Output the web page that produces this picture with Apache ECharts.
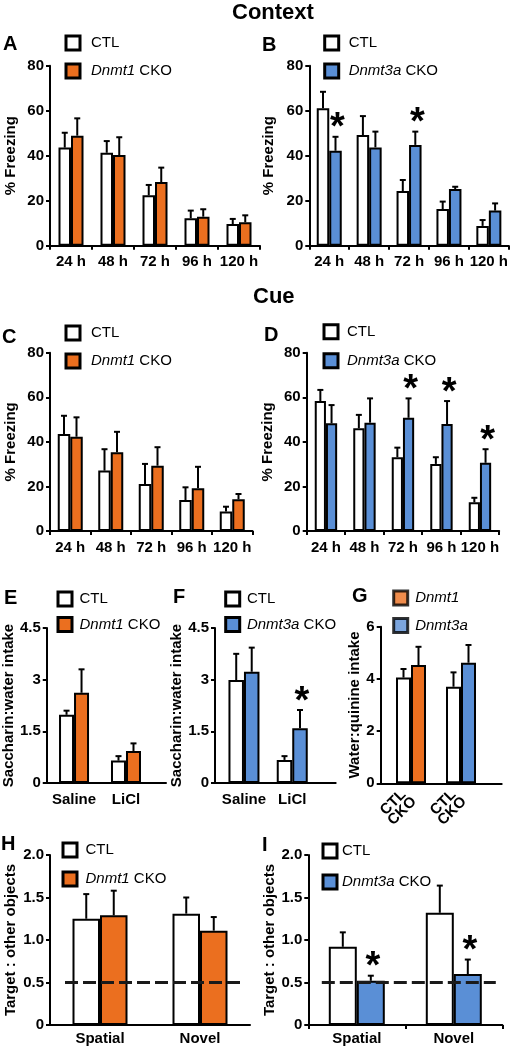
<!DOCTYPE html>
<html><head><meta charset="utf-8">
<script src="https://cdn.jsdelivr.net/npm/echarts@6/dist/echarts.min.js"></script>
<style>html,body{margin:0;padding:0;background:#fff}#c{width:513px;height:1050px}</style>
</head><body><div id="c"></div>
<script>
// ---------------- data ----------------
const hours = ['24 h', '48 h', '72 h', '96 h', '120 h'];
const tastes = ['Saline', 'LiCl'];
const genotypes = ['Dnmt1', 'Dnmt3a'];
const objects = ['Spatial', 'Novel'];

// A: context fear, Dnmt1
const ctxD1Ctl = [43.6, 41.3, 22.4, 12.2, 9.6];
const ctxD1CtlSem = [6.6, 5.2, 4.6, 3.4, 2.3];
const ctxD1Cko = [48.9, 40.3, 28.3, 12.9, 10.4];
const ctxD1CkoSem = [7.7, 7.9, 6.4, 3.3, 3.1];
// B: context fear, Dnmt3a
const ctxD3aCtl = [61.1, 49.2, 24.3, 16.3, 8.8];
const ctxD3aCtlSem = [7.3, 8.4, 4.9, 3.3, 2.6];
const ctxD3aCko = [42.2, 43.7, 44.8, 25.2, 15.6];
const ctxD3aCkoSem = [6.2, 7.0, 5.9, 1.0, 3.2];
const ctxD3aSig = [1, 0, 1, 0, 0];
// C: cue fear, Dnmt1
const cueD1Ctl = [43.5, 27.1, 21.1, 13.9, 8.7];
const cueD1CtlSem = [8.2, 9.6, 9.0, 5.7, 2.2];
const cueD1Cko = [42.3, 35.3, 29.3, 19.2, 14.2];
const cueD1CkoSem = [8.7, 9.2, 8.3, 9.6, 2.4];
// D: cue fear, Dnmt3a
const cueD3aCtl = [58.3, 46.1, 33.1, 30.1, 12.9];
const cueD3aCtlSem = [5.0, 6.0, 4.3, 3.0, 2.0];
const cueD3aCko = [48.3, 48.6, 50.8, 48.0, 30.6];
const cueD3aCkoSem = [8.2, 10.9, 8.7, 10.3, 6.1];
const cueD3aSig = [0, 0, 1, 1, 1];
// E: saccharin:water, Dnmt1
const ctaD1Ctl = [1.98, 0.65];
const ctaD1CtlSem = [0.12, 0.13];
const ctaD1Cko = [2.62, 0.93];
const ctaD1CkoSem = [0.68, 0.22];
// F: saccharin:water, Dnmt3a
const ctaD3aCtl = [2.99, 0.67];
const ctaD3aCtlSem = [0.76, 0.11];
const ctaD3aCko = [3.23, 1.59];
const ctaD3aCkoSem = [0.70, 0.53];
const ctaD3aSig = [0, 1];
// G: water:quinine
const quinCtl = [4.05, 3.70];
const quinCtlSem = [0.33, 0.55];
const quinCko = [4.53, 4.62];
const quinCkoSem = [0.70, 0.68];
const quinTickLabels = ['CTL', 'CKO'];
// H: object recognition, Dnmt1
const objD1Ctl = [1.25, 1.31];
const objD1CtlSem = [0.29, 0.19];
const objD1Cko = [1.29, 1.11];
const objD1CkoSem = [0.29, 0.16];
// I: object recognition, Dnmt3a
const objD3aCtl = [0.92, 1.32];
const objD3aCtlSem = [0.17, 0.32];
const objD3aCko = [0.52, 0.60];
const objD3aCkoSem = [0.06, 0.17];
const objD3aSig = [1, 1];
const chanceLevel = 0.5;

// ---------------- styles ----------------
const FONT = '"Liberation Sans", Arial, Helvetica, sans-serif';
const ORANGE = '#EB6F1F';
const BLUE = '#5A8FD6';
const STAR_FS = 38;

function colorFor(name) {
  if (name === 'CTL') return '#ffffff';
  if (name.indexOf('Dnmt3a') === 0) return BLUE;
  return ORANGE;
}

const panels = [
  { title: 'A', tl: [3, 34.4], grid: { left: 50, top: 65.7, width: 210, height: 180 }, kind: 'cat', cats: hours,
    yMax: 80, yInt: 20, yName: '% Freezing', nameGap: 32, bw: 12.5, xTicks: true, labelMargin: 9,
    ctl: ctxD1Ctl, ctlSem: ctxD1CtlSem, cko: ctxD1Cko, ckoSem: ctxD1CkoSem, sig: null, ckoName: 'Dnmt1 CKO',
    legend: { left: 64.5, top: 34.5, gap: 11, pad: 6, names: ['CTL', 'Dnmt1 CKO'] } },
  { title: 'B', tl: [262, 35.4], grid: { left: 309.3, top: 65.7, width: 199.5, height: 180 }, kind: 'cat', cats: hours,
    yMax: 80, yInt: 20, yName: '% Freezing', nameGap: 33, bw: 12.5, xTicks: true, labelMargin: 9,
    ctl: ctxD3aCtl, ctlSem: ctxD3aCtlSem, cko: ctxD3aCko, ckoSem: ctxD3aCkoSem, sig: ctxD3aSig, ckoName: 'Dnmt3a CKO',
    legend: { left: 323.2, top: 34.5, gap: 11, pad: 5, names: ['CTL', 'Dnmt3a CKO'] } },
  { title: 'C', tl: [2, 327.4], grid: { left: 50, top: 352.7, width: 202.5, height: 178.3 }, kind: 'cat', cats: hours,
    yMax: 80, yInt: 20, yName: '% Freezing', nameGap: 32, bw: 12.5, xTicks: true, labelMargin: 9,
    ctl: cueD1Ctl, ctlSem: cueD1CtlSem, cko: cueD1Cko, ckoSem: cueD1CkoSem, sig: null, ckoName: 'Dnmt1 CKO',
    legend: { left: 64.5, top: 324.5, gap: 11, pad: 6, names: ['CTL', 'Dnmt1 CKO'] } },
  { title: 'D', tl: [264, 325.4], grid: { left: 306.7, top: 352.7, width: 192.5, height: 178.3 }, kind: 'cat', cats: hours,
    yMax: 80, yInt: 20, yName: '% Freezing', nameGap: 31, bw: 11.2, xTicks: true, labelMargin: 9,
    ctl: cueD3aCtl, ctlSem: cueD3aCtlSem, cko: cueD3aCko, ckoSem: cueD3aCkoSem, sig: cueD3aSig, ckoName: 'Dnmt3a CKO',
    legend: { left: 322.5, top: 323.2, gap: 12, pad: 4, names: ['CTL', 'Dnmt3a CKO'] } },
  { title: 'E', tl: [4, 588], grid: { left: 46.7, top: 628, width: 119.3, height: 155 }, kind: 'val', cats: tastes,
    xMin: 0.475, xMax: 2.77, yMax: 4.5, yInt: 1.5, yName: 'Saccharin:water intake', nameGap: 28, bw: 15, labelMargin: 9,
    ctl: ctaD1Ctl, ctlSem: ctaD1CtlSem, cko: ctaD1Cko, ckoSem: ctaD1CkoSem, sig: null, ckoName: 'Dnmt1 CKO',
    legend: { left: 56.5, top: 590.5, gap: 8.5, pad: 2.5, names: ['CTL', 'Dnmt1 CKO'] } },
  { title: 'F', tl: [173, 587.4], grid: { left: 215, top: 628, width: 120.7, height: 155 }, kind: 'val', cats: tastes,
    xMin: 0.4, xMax: 2.9, yMax: 4.5, yInt: 1.5, yName: 'Saccharin:water intake', nameGap: 27, bw: 15.5, labelMargin: 9,
    ctl: ctaD3aCtl, ctlSem: ctaD3aCtlSem, cko: ctaD3aCko, ckoSem: ctaD3aCkoSem, sig: ctaD3aSig, ckoName: 'Dnmt3a CKO',
    legend: { left: 224.2, top: 590.5, gap: 8.5, pad: 2.2, names: ['CTL', 'Dnmt3a CKO'] } },
  { title: 'G', tl: [352, 586.4], grid: { left: 380.7, top: 626.7, width: 121, height: 156.6 }, kind: 'val', cats: genotypes,
    xMin: 0.394, xMax: 2.814, yMax: 6, yInt: 2, yName: 'Water:quinine intake', nameGap: 13, bw: 15, labelMargin: 9, rotate: 45,
    ctl: quinCtl, ctlSem: quinCtlSem, cko: quinCko, ckoSem: quinCkoSem, sig: null, ckoName: 'CKO', perGroupColor: true,
    legend: { left: 392.2, top: 589.5, gap: 10.5, pad: 2.5, names: ['Dnmt1', 'Dnmt3a'] } },
  { title: 'H', tl: [1, 834], grid: { left: 50, top: 855, width: 200, height: 170 }, kind: 'cat', cats: objects,
    yMax: 2, yInt: 0.5, yName: 'Target : other objects', nameGap: 32, bw: 27.5, xTicks: false, labelMargin: 6, chance: true,
    ctl: objD1Ctl, ctlSem: objD1CtlSem, cko: objD1Cko, ckoSem: objD1CkoSem, sig: null, ckoName: 'Dnmt1 CKO',
    legend: { left: 61.5, top: 841.5, gap: 12, pad: 3.5, names: ['CTL', 'Dnmt1 CKO'] } },
  { title: 'I', tl: [262, 835.4], grid: { left: 308.3, top: 855, width: 194, height: 170 }, kind: 'cat', cats: objects,
    yMax: 2, yInt: 0.5, yName: 'Target : other objects', nameGap: 31, bw: 28, xTicks: true, labelMargin: 6, chance: true,
    ctl: objD3aCtl, ctlSem: objD3aCtlSem, cko: objD3aCko, ckoSem: objD3aCkoSem, sig: objD3aSig, ckoName: 'Dnmt3a CKO',
    legend: { left: 321.5, top: 842.5, gap: 14, pad: 0, names: ['CTL', 'Dnmt3a CKO'] } }
];

function errRender(bw) {
  return function (params, api) {
    const x = api.value(0), m = api.value(1), s = api.value(2), side = api.value(3), sig = api.value(4);
    const pTop = api.coord([x, m + s]);
    const pMean = api.coord([x, m]);
    const cx = pTop[0] + (side ? bw / 2 : -bw / 2);
    const children = [
      { type: 'line', shape: { x1: cx, y1: pMean[1], x2: cx, y2: pTop[1] }, style: { stroke: '#000', lineWidth: 2 } },
      { type: 'line', shape: { x1: cx - 3, y1: pTop[1], x2: cx + 3, y2: pTop[1] }, style: { stroke: '#000', lineWidth: 2 } }
    ];
    if (sig) {
      children.push({ type: 'text', x: cx + 2, y: pTop[1] - 16.5 + 0.228 * STAR_FS,
        style: { text: '*', fontSize: STAR_FS, fontWeight: 'bold', fontFamily: FONT, fill: '#000', align: 'center', verticalAlign: 'middle' } });
    }
    return { type: 'group', children: children };
  };
}

function chanceRender(params, api) {
  const y = api.value(1);
  const p0 = api.coord([0, y]);
  const p1 = api.coord([1, y]);
  return { type: 'line', shape: { x1: p0[0] - 35, y1: p0[1], x2: p1[0] + 42, y2: p1[1] },
    style: { stroke: '#1a1a1a', lineWidth: 3, lineDash: [13, 5] } };
}

function legendFmt(name) {
  const parts = name.split(' ');
  if (parts[0].indexOf('Dnmt') === 0) {
    return '{i|' + parts[0] + '}' + (parts.length > 1 ? ' ' + parts.slice(1).join(' ') : '');
  }
  return name;
}

const option = { animation: false, backgroundColor: '#ffffff', title: [], grid: [], xAxis: [], yAxis: [], legend: [], series: [] };

option.title.push({ text: 'Context', left: 232, top: 2, padding: 0,
  textStyle: { fontSize: 22, fontWeight: 'bold', fontFamily: FONT, color: '#000' } });
option.title.push({ text: 'Cue', left: 253, top: 286.4, padding: 0,
  textStyle: { fontSize: 22, fontWeight: 'bold', fontFamily: FONT, color: '#000' } });

panels.forEach(function (p, k) {
  option.title.push({ text: p.title, left: p.tl[0], top: p.tl[1], padding: 0,
    textStyle: { fontSize: 20, fontWeight: 'bold', fontFamily: FONT, color: '#000' } });
  option.grid.push(Object.assign({ containLabel: false }, p.grid));

  const axisLine = { show: true, onZero: false, lineStyle: { color: '#000', width: 2 } };
  const labelStyle = { fontSize: 15, fontWeight: 'bold', fontFamily: FONT, color: '#000' };
  const xs = p.cats.map(function (c, i) { return p.kind === 'cat' ? i : i + 1; });
  const xi = option.xAxis.length;

  if (p.kind === 'cat') {
    option.xAxis.push({ gridIndex: k, type: 'category', data: p.cats, axisLine: axisLine,
      axisTick: { show: p.xTicks, length: 4, lineStyle: { color: '#000', width: 2 } },
      axisLabel: Object.assign({ margin: p.labelMargin, interval: 0 }, labelStyle), splitLine: { show: false } });
  } else if (p.rotate) {
    // one axis per bar within each pair so every tick label sits under its own bar
    const half = (p.bw / 2) * (p.xMax - p.xMin) / p.grid.width;
    const shift = [-half, 0.4 * half];
    const margins = [p.labelMargin, p.labelMargin + 7];
    [0, 1].forEach(function (j) {
      option.xAxis.push({ gridIndex: k, type: 'value', position: 'bottom', offset: 0, min: p.xMin, max: p.xMax,
        axisLine: j === 0 ? axisLine : { show: false }, axisTick: { show: false }, splitLine: { show: false },
        axisLabel: Object.assign({ customValues: xs.map(function (x) { return x + shift[j]; }),
          formatter: function () { return quinTickLabels[j]; }, rotate: p.rotate, margin: margins[j],
          showMinLabel: true, showMaxLabel: true, hideOverlap: false }, labelStyle) });
    });
  } else {
    option.xAxis.push({ gridIndex: k, type: 'value', min: p.xMin, max: p.xMax, axisLine: axisLine,
      axisTick: { show: false }, splitLine: { show: false },
      axisLabel: Object.assign({ customValues: xs.slice(), formatter: function (v) { return p.cats[Math.round(v) - 1]; },
        margin: p.labelMargin, showMinLabel: true, showMaxLabel: true, hideOverlap: false }, labelStyle) });
  }

  option.yAxis.push({ gridIndex: k, type: 'value', min: 0, max: p.yMax, interval: p.yInt,
    name: p.yName, nameLocation: 'middle', nameGap: p.nameGap,
    nameTextStyle: { fontSize: 15, fontWeight: 'bold', fontFamily: FONT, color: '#000' },
    axisLine: axisLine, axisTick: { show: true, length: 4, lineStyle: { color: '#000', width: 2 } },
    splitLine: { show: false },
    axisLabel: Object.assign({ margin: 6, formatter: p.yInt === 0.5 ? function (v) { return v === 0 ? '0' : v.toFixed(1); } : null }, labelStyle) });

  const toData = function (vals) { return vals.map(function (v, i) { return p.kind === 'cat' ? v : [xs[i], v]; }); };

  option.series.push({ type: 'bar', name: 'CTL', xAxisIndex: xi, yAxisIndex: k, data: toData(p.ctl),
    barWidth: p.bw, barGap: '0%', itemStyle: { color: '#ffffff', borderColor: '#000', borderWidth: 2 }, z: 2 });

  let ckoData = toData(p.cko);
  if (p.perGroupColor) {
    ckoData = ckoData.map(function (d, i) { return { value: d, itemStyle: { color: colorFor(p.cats[i]) } }; });
  }
  option.series.push({ type: 'bar', name: p.ckoName, xAxisIndex: xi, yAxisIndex: k, data: ckoData,
    barWidth: p.bw, barGap: '0%', itemStyle: { color: colorFor(p.ckoName), borderColor: '#000', borderWidth: 2 }, z: 2 });

  const errData = [];
  xs.forEach(function (x, i) {
    errData.push([x, p.ctl[i], p.ctlSem[i], 0, 0]);
    errData.push([x, p.cko[i], p.ckoSem[i], 1, p.sig ? p.sig[i] : 0]);
  });
  option.series.push({ type: 'custom', xAxisIndex: xi, yAxisIndex: k, renderItem: errRender(p.bw), data: errData, z: 5, silent: true, clip: false });

  if (p.chance) {
    option.series.push({ type: 'custom', xAxisIndex: xi, yAxisIndex: k, renderItem: chanceRender, data: [[0, chanceLevel]], z: 6, silent: true, clip: false });
  }
  if (p.perGroupColor) {
    p.cats.forEach(function (c) {
      option.series.push({ type: 'scatter', name: c, xAxisIndex: xi, yAxisIndex: k, data: [], itemStyle: { color: colorFor(c) } });
    });
  }

  option.legend.push({ orient: 'vertical', left: p.legend.left, top: p.legend.top, padding: 0,
    itemGap: p.legend.gap, itemWidth: 14, itemHeight: 14, icon: 'rect', selectedMode: false,
    data: p.legend.names.map(function (n) { return { name: n, itemStyle: { color: colorFor(n), borderColor: '#000', borderWidth: 3 } }; }),
    formatter: legendFmt,
    textStyle: { fontSize: 15, fontFamily: FONT, color: '#000', lineHeight: 14, padding: [0, 0, 0, p.legend.pad],
      rich: { i: { fontStyle: 'italic', fontSize: 15, fontFamily: FONT, color: '#000', lineHeight: 14 } } } });
});

const chart = echarts.init(document.getElementById('c'), null, { renderer: 'canvas' });
chart.setOption(option);
</script>
</body></html>
